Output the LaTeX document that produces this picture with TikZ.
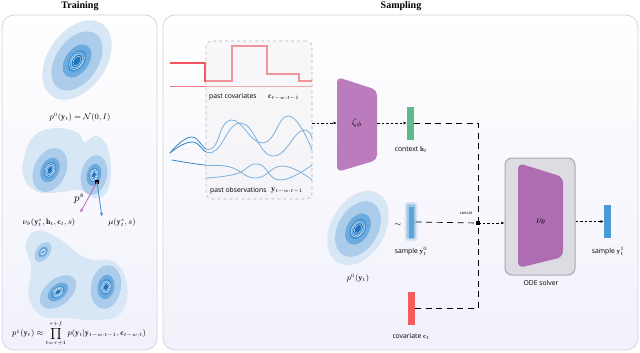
\documentclass[tikz,border=0pt]{standalone}
\usepackage{amsmath}
\usepackage{fontspec}
\newfontfamily\labfont{Open Sans}
\newfontfamily\titlefont{Liberation Serif}
\usetikzlibrary{arrows.meta}
\definecolor{gA}{HTML}{D8E7F6}
\definecolor{gB}{HTML}{ABCCEA}
\definecolor{gC}{HTML}{6DAADD}
\definecolor{gD}{HTML}{3C8ED0}
\definecolor{gE}{HTML}{1F72BE}
\definecolor{panelc}{HTML}{F1F1FB}
\definecolor{panelb}{HTML}{D4D4DC}
\definecolor{boxfill}{HTML}{F0F0F3}
\definecolor{boxline}{HTML}{B4B4BA}
\definecolor{redstep}{HTML}{F2555F}
\definecolor{redbase}{HTML}{F27A84}
\definecolor{obsblue}{HTML}{2F86CC}
\definecolor{zetac}{HTML}{BA7CBD}
\definecolor{nuc}{HTML}{AE6DB1}
\definecolor{ctxgreen}{HTML}{5DBA8B}
\definecolor{covred}{HTML}{F45C5E}
\definecolor{sampblue}{HTML}{5DA3DA}
\definecolor{outblue}{HTML}{4A9AD6}
\definecolor{odefill}{HTML}{DCDCE2}
\definecolor{odeline}{HTML}{A8A8B0}
\definecolor{pinkarr}{HTML}{C064C0}
\definecolor{bluearr}{HTML}{3F90D2}
\newcommand{\gaussblob}[5]{%
  \begin{scope}[shift={(#1,#2)},rotate=#5]
    \fill[gB] (0,0) ellipse [x radius=#3pt, y radius=#4pt];
    \fill[gC] (0,0) ellipse [x radius=0.56*#3pt, y radius=0.56*#4pt];
    \fill[gD] (0,0) ellipse [x radius=0.36*#3pt, y radius=0.36*#4pt];
    \fill[gE] (0,0) ellipse [x radius=0.2*#3pt, y radius=0.2*#4pt];
    \draw[white, line width=0.35pt] (0,0) ellipse [x radius=0.29*#3pt, y radius=0.29*#4pt];
    \draw[white, line width=0.35pt] (0,0) ellipse [x radius=0.23*#3pt, y radius=0.23*#4pt];
    \draw[white, line width=0.3pt] (0,0) ellipse [x radius=0.16*#3pt, y radius=0.16*#4pt];
  \end{scope}}
\begin{document}
\begin{tikzpicture}[x=1pt,y=-1pt,
  panel/.style={draw=panelb, line width=0.8pt, rounded corners=12pt, top color=white, bottom color=panelc, inner sep=0pt},
  ttl/.style={font=\titlefont\bfseries\fontsize{10}{12}\selectfont},
  lab/.style={font=\labfont\fontsize{6.8}{8}\selectfont, inner sep=1pt},
  mlab/.style={font=\fontsize{7.8}{9}\selectfont, inner sep=1pt},
  bar/.style={minimum width=7pt, minimum height=33pt, inner sep=0pt, draw=none},
  shortarr/.style={black, line width=0.7pt, dash pattern=on 2.5pt off 2pt, -{Latex[length=3.2pt,width=2.8pt]}},
  longdash/.style={black, line width=0.7pt, dash pattern=on 6pt off 4.5pt},
  obs/.style={obsblue, line width=0.8pt}
  ]
\useasboundingbox (0,0) rectangle (640,353);
\fill[white] (0,0) rectangle (640,353);

% ---------- panels ----------
\node[panel, minimum width=155pt, minimum height=335pt] (train) at (79.5,182.5) {};
\node[panel, minimum width=475pt, minimum height=335pt] (samp) at (400.5,182.5) {};
\node[ttl] (ttrain) at (80,6) {Training};
\node[ttl] (tsamp) at (401,6) {Sampling};

% ---------- training: top gaussian ----------
\fill[gA, rotate around={55:(77,60)}] (77,60) ellipse [x radius=44pt, y radius=29pt];
\gaussblob{77}{61}{33}{21}{55}
\node[mlab] (p0lab) at (80,117) {$p^0(\mathbf{y}_t) = \mathcal{N}(0, I)$};

% ---------- training: middle mixture ----------
\fill[gA] plot[smooth cycle, tension=0.7] coordinates {(24,158) (34,136) (56,128) (78,133) (84,142) (96,136) (107,146) (111,172) (106,193) (94,198) (80,190) (62,192) (38,192) (24,178)};
\gaussblob{50}{170}{23}{16}{65}
\gaussblob{94}{175}{20}{13}{78}
\node[fill=black, minimum size=4pt, inner sep=0pt] (xs) at (97,182) {};
\coordinate (nuend) at (80,213);
\coordinate (muend) at (102,217);
\draw[pinkarr, line width=0.8pt, -{Latex[length=4pt,width=3pt]}] (xs.center) -- (nuend);
\draw[bluearr, line width=0.8pt, -{Latex[length=4pt,width=3pt]}] (xs.center) -- (muend);
\node[font=\fontsize{11}{12}\selectfont, inner sep=0pt] (ps) at (79,199) {$p^s$};
\node[mlab] (nulab) at (49,222) {$\nu_\theta(\mathbf{y}^s_t, \mathbf{h}_t, \mathbf{c}_t, s)$};
\node[mlab] (mulab) at (122,222) {$\mu(\mathbf{y}^s_t, s)$};

% ---------- training: bottom mixture ----------
\fill[gA] plot[smooth cycle, tension=0.75] coordinates {(26,245) (36,231) (58,238) (86,258) (114,262) (127,285) (121,313) (96,320) (68,318) (42,316) (29,297) (31,268)};
\gaussblob{43}{252}{11}{7}{55}
\gaussblob{58}{292}{21}{13}{40}
\gaussblob{106}{287}{22}{15}{80}
\node[mlab] (p1lab) at (79,334) {$p^1(\mathbf{y}_t) \approx \displaystyle\prod_{t=\tau+1}^{\tau+f} p(\mathbf{y}_t | \mathbf{y}_{t-w:t-1}, \mathbf{c}_{t-w:t})$};

% ---------- sampling: past window ----------
\draw[redbase, line width=1pt] (170,87) -- (312,87);
\draw[redstep, line width=1.1pt] (170,63) -- (205,63) -- (205,81) -- (232,81) -- (232,46) -- (267,46) -- (267,74) -- (299,74) -- (299,81) -- (312,81);

\draw[obs] plot[smooth, tension=0.8] coordinates {(170,153) (191,137) (211,149) (231,120) (263,143) (289,116) (312,150)};
\draw[obs] plot[smooth, tension=0.8] coordinates {(170,153) (192,142) (213,152) (241,123) (272,156) (301,131) (312,138)};
\draw[obs] plot[smooth, tension=0.8] coordinates {(172,160) (204,165) (230,167) (256,178) (283,166) (312,180)};
\draw[obs] plot[smooth, tension=0.8] coordinates {(206,178) (236,174) (258,164) (280,180) (312,165)};

\node[draw=boxline, fill=boxfill, fill opacity=0.4, dashed, line width=0.6pt, rounded corners=6pt, minimum width=106pt, minimum height=158pt, inner sep=0pt] (pastbox) at (259,120) {};
\node[lab, anchor=west] (pcov) at (208,97) {past covariates};
\node[mlab, anchor=west] (pcovm) at (267,97.5) {$\mathbf{c}_{t-w:t-1}$};
\node[lab, anchor=west] (pobs) at (209,191) {past observations};
\node[mlab, anchor=west] (pobsm) at (270,191) {$\mathbf{y}_{t-w:t-1}$};

% ---------- encoder ----------
\fill[zetac, rounded corners=5pt] (337,77) -- (377,90) -- (377,160) -- (337,172) -- cycle;
\node[minimum width=40pt, minimum height=70pt, inner sep=0pt, font=\fontsize{10}{12}\selectfont] (zeta) at (357,123) {$\zeta_\phi$};
\draw[shortarr] (pastbox.east |- zeta.west) -- (zeta.west);

\node[bar, fill=ctxgreen] (ctx) at (410.5,123) {};
\draw[shortarr] (zeta.east) -- (ctx.west);
\node[lab] (ctxlab) at (411,150) {context $\mathbf{h}_t$};

% ---------- prior sample ----------
\fill[gA, rotate around={60:(358,228)}] (358,228) ellipse [x radius=40pt, y radius=27pt];
\gaussblob{358}{229}{30}{20}{60}
\node[mlab] (p0s) at (358,278) {$p^0(\mathbf{y}_t)$};
\node[mlab] (sim) at (398,225) {$\sim$};
\fill[sampblue, opacity=0.2, rounded corners=3pt] (404.5,202) rectangle (417.5,241);
\fill[sampblue, opacity=0.45, rounded corners=2pt] (406.5,204) rectangle (415.5,239);
\node[bar, fill=sampblue, minimum width=5pt, minimum height=31pt] (samp0) at (411,222) {};
\node[lab] (samp0lab) at (411,251) {sample $\mathbf{y}^0_t$};

\node[bar, fill=covred] (cov) at (411.5,308) {};
\node[lab] (covlab) at (411,337) {covariate $\mathbf{c}_t$};

% ---------- concat ----------
\node[fill=black, minimum size=4.5pt, inner sep=0pt] (concat) at (478,223) {};
\node[font=\labfont\fontsize{4}{5}\selectfont, inner sep=0pt] (concatlab) at (466,213.5) {concat};
\draw[longdash] (ctx.east) -- (ctx.east -| concat.center) -- (concat.center);
\draw[longdash] (samp0.east) ++(2pt,0) -- (concat.center);
\draw[longdash] (cov.east) -- (cov.east -| concat.center) -- (concat.center);

% ---------- ODE solver ----------
\node[draw=odeline, fill=odefill, line width=1pt, rounded corners=7pt, minimum width=70pt, minimum height=117pt, inner sep=0pt] (ode) at (540,216.5) {};
\fill[nuc, rounded corners=6pt] (518,163) -- (563,177) -- (563,257) -- (518,268) -- cycle;
\node[font=\fontsize{10}{12}\selectfont, inner sep=0pt] (nu) at (541,222) {$\nu_\theta$};
\node[lab] (odelab) at (541,283) {ODE solver};
\draw[shortarr] (concat.center) -- (concat.center -| ode.west);

\node[bar, fill=outblue] (out) at (607.5,221.5) {};
\draw[shortarr] (ode.east |- out.west) -- (out.west);
\node[lab] (outlab) at (608,251) {sample $\mathbf{y}^1_t$};
\end{tikzpicture}
\end{document}
